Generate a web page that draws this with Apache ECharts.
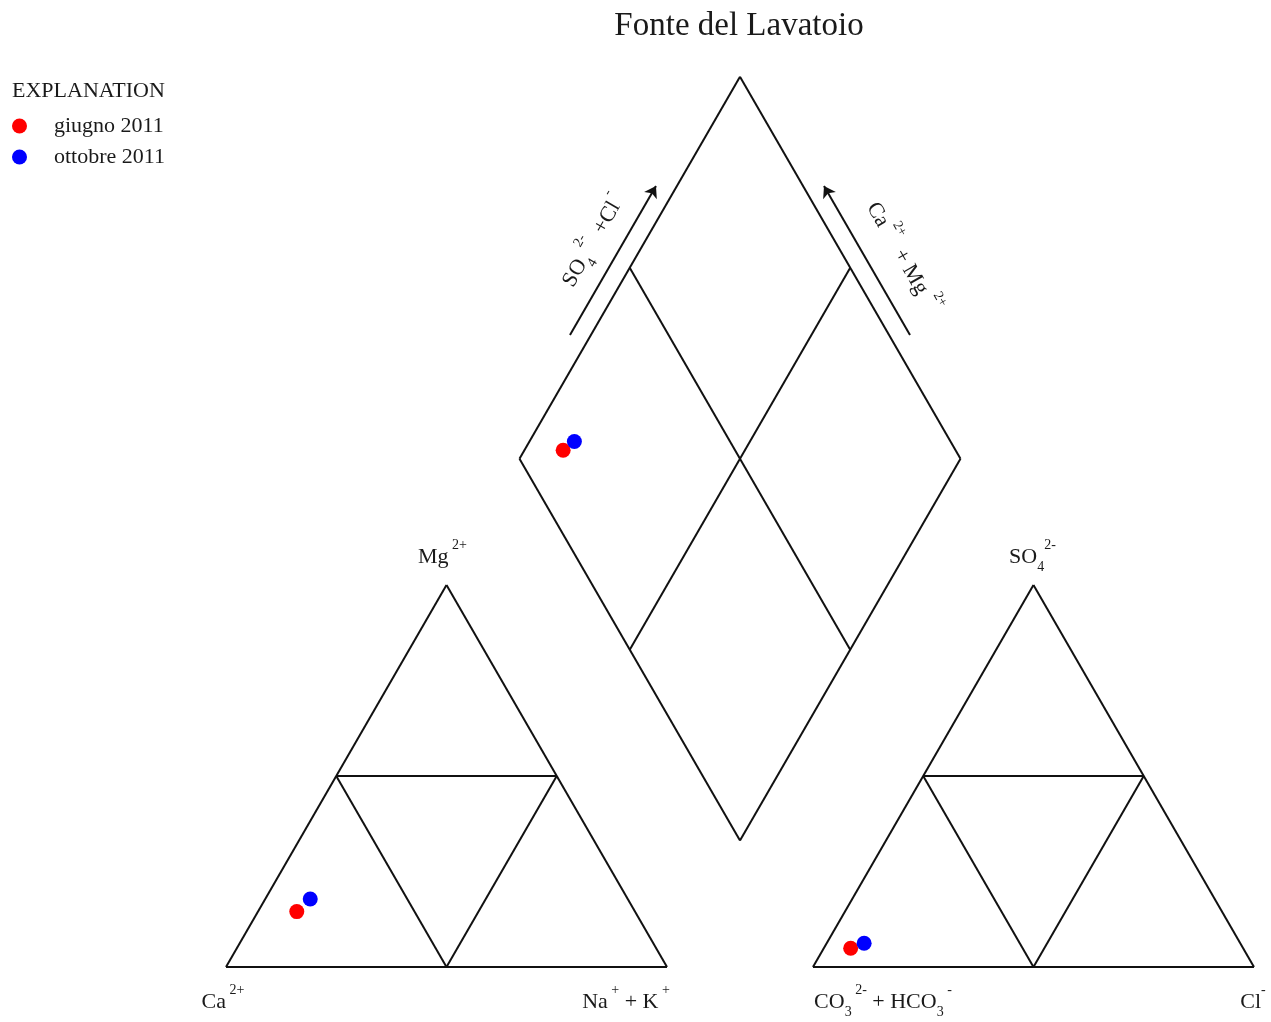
<!DOCTYPE html>
<html>
<head>
<meta charset="utf-8">
<script src="https://cdn.jsdelivr.net/npm/echarts@6/dist/echarts.min.js"></script>
<style>
  html, body { margin: 0; padding: 0; background: #fff; }
  #chart { width: 1271px; height: 1022px; }
</style>
</head>
<body>
<div id="chart"></div>
<script>
// Samples and major-ion composition (meq %)
const samples = ['giugno 2011', 'ottobre 2011'];
const sampleColors = ['#ff0000', '#0000ff'];
const calcium = [76.7, 72.0];
const magnesium = [14.5, 17.8];
const sodiumPotassium = [8.8, 10.2];
const bicarbonate = [89.0, 85.3];
const sulfate = [4.9, 6.2];
const chloride = [6.1, 8.5];

// Piper geometry, in units of one triangle side
const H = Math.sqrt(3) / 2;
const GAP = 0.331;
const add = (p, q, s = 1) => [p[0] + q[0] * s, p[1] + q[1] * s];
const mid = (p, q) => [(p[0] + q[0]) / 2, (p[1] + q[1]) / 2];

// cation triangle
const CA = [0, 0], NAK = [1, 0], MG = [0.5, H];
// anion triangle
const CO3 = [1 + GAP, 0], CL = [2 + GAP, 0], SO4 = [1.5 + GAP, H];
// central diamond
const DB = [1 + GAP / 2, GAP * H];
const DL = add(DB, [-0.5, H]);
const DR = add(DB, [0.5, H]);
const DT = add(DB, [0, 2 * H]);

const UP_RIGHT = [0.5, H], DOWN_RIGHT = [0.5, -H], UP_LEFT = [-0.5, H];
const N_LEFT = [-H, 0.5], N_RIGHT = [H, 0.5];

function triangleSegments(a, b, c) {
  const ab = mid(a, b), bc = mid(b, c), ca = mid(c, a);
  return [[a, b], [b, c], [c, a], [ab, bc], [bc, ca], [ca, ab]];
}
const frame = [
  ...triangleSegments(CA, NAK, MG),
  ...triangleSegments(CO3, CL, SO4),
  [DL, DT], [DT, DR], [DR, DB], [DB, DL],
  [mid(DL, DT), mid(DB, DR)], [mid(DT, DR), mid(DL, DB)]
];

// arrows beside the upper diamond edges
const arrows = [
  [add(add(DL, UP_RIGHT, 0.30), N_LEFT, 0.041), add(add(DL, UP_RIGHT, 0.69), N_LEFT, 0.041)],
  [add(add(DR, UP_LEFT, 0.30), N_RIGHT, 0.041), add(add(DR, UP_LEFT, 0.69), N_RIGHT, 0.041)]
];

// sample positions
function cationPoint(i) {
  const na = sodiumPotassium[i] / 100, mg = magnesium[i] / 100;
  return [CA[0] + na + mg / 2, CA[1] + mg * H];
}
function anionPoint(i) {
  const cl = chloride[i] / 100, so = sulfate[i] / 100;
  return [CO3[0] + cl + so / 2, CO3[1] + so * H];
}
function diamondPoint(i) {
  const a = sodiumPotassium[i] / 100;
  const b = (chloride[i] + sulfate[i]) / 100;
  return add(add(DL, DOWN_RIGHT, a), UP_RIGHT, b);
}

const FONT = '"Liberation Serif", "DejaVu Serif", serif';
const INK = '#1a1a1a';
const rich = {
  n: { fontFamily: FONT, fontSize: 22, color: INK, verticalAlign: 'bottom', padding: [0, 0, 6, 0] },
  p: { fontFamily: FONT, fontSize: 14, color: INK, verticalAlign: 'top' },
  b: { fontFamily: FONT, fontSize: 14, color: INK, verticalAlign: 'bottom' }
};

const axisLabels = [
  { at: MG, text: '{n|Mg}{p| 2+}', offset: [-4, -29], rotate: 0 },
  { at: SO4, text: '{n|SO}{b|4}{p|2-}', offset: [-1, -29], rotate: 0 },
  { at: CA, text: '{n|Ca}{p| 2+}', offset: [-3, 34], rotate: 0 },
  { at: NAK, text: '{n|Na}{p| +}{n| + K}{p| +}', offset: [-41, 34], rotate: 0 },
  { at: CO3, text: '{n|CO}{b|3}{p| 2-}{n| + HCO}{b|3}{p| -}', offset: [70, 34], rotate: 0 },
  { at: CL, text: '{n|Cl}{p|-}', offset: [-1, 34], rotate: 0 },
  { at: add(add(DL, UP_RIGHT, 0.512), N_LEFT, 0.1035), text: '{n|SO}{b|4}{p| 2-}{n|  +Cl}{p| -}', offset: [0, 0], rotate: 60 },
  { at: add(add(DR, UP_LEFT, 0.453), N_RIGHT, 0.116), text: '{n|Ca}{p| 2+}{n|  + Mg}{p|  2+}', offset: [-3, 0], rotate: -60 }
];

// viewport: 441 px per unit, cation-triangle base at x=226, y=967
const PX = 441, X0 = 226, Y0 = 967, W = 1271, HT = 1022;

const option = {
  backgroundColor: '#fff',
  animation: false,
  grid: { left: 0, right: 0, top: 0, bottom: 0 },
  xAxis: { type: 'value', min: -X0 / PX, max: (W - X0) / PX, show: false },
  yAxis: { type: 'value', min: -(HT - Y0) / PX, max: Y0 / PX, show: false },
  legend: {
    data: samples,
    orient: 'vertical',
    left: 12,
    top: 115,
    padding: 0,
    icon: 'circle',
    itemWidth: 15,
    itemHeight: 15,
    itemGap: 9,
    textStyle: { fontFamily: FONT, fontSize: 22, color: INK, padding: [0, 0, 0, 22] }
  },
  graphic: [
    { type: 'text', x: 739, y: 26, style: { text: 'Fonte del Lavatoio', font: '33px ' + FONT, fill: INK, textAlign: 'center', textVerticalAlign: 'middle' } },
    { type: 'text', x: 12, y: 91, style: { text: 'EXPLANATION', font: '22px ' + FONT, fill: INK, textAlign: 'left', textVerticalAlign: 'middle' } }
  ],
  series: [
    {
      type: 'lines',
      coordinateSystem: 'cartesian2d',
      silent: true,
      lineStyle: { color: '#111', width: 2, opacity: 1 },
      data: frame.map(s => ({ coords: s }))
    },
    {
      type: 'lines',
      coordinateSystem: 'cartesian2d',
      silent: true,
      symbol: ['none', 'arrow'],
      symbolSize: 11,
      lineStyle: { color: '#111', width: 2, opacity: 1 },
      data: arrows.map(s => ({ coords: s }))
    },
    {
      type: 'scatter',
      silent: true,
      symbolSize: 1,
      itemStyle: { color: 'rgba(0,0,0,0)' },
      data: axisLabels.map(l => ({
        value: l.at,
        label: {
          show: true,
          position: 'inside',
          formatter: l.text,
          offset: l.offset,
          rotate: l.rotate,
          color: INK,
          textBorderWidth: 0,
          opacity: 1,
          lineHeight: 36,
          rich: rich
        }
      }))
    },
    ...samples.map((name, i) => ({
      type: 'scatter',
      name: name,
      symbol: 'circle',
      symbolSize: 15,
      itemStyle: { color: sampleColors[i], opacity: 1 },
      z: 5,
      data: [cationPoint(i), anionPoint(i), diamondPoint(i)]
    }))
  ]
};

const chart = echarts.init(document.getElementById('chart'));
chart.setOption(option);
</script>
</body>
</html>
